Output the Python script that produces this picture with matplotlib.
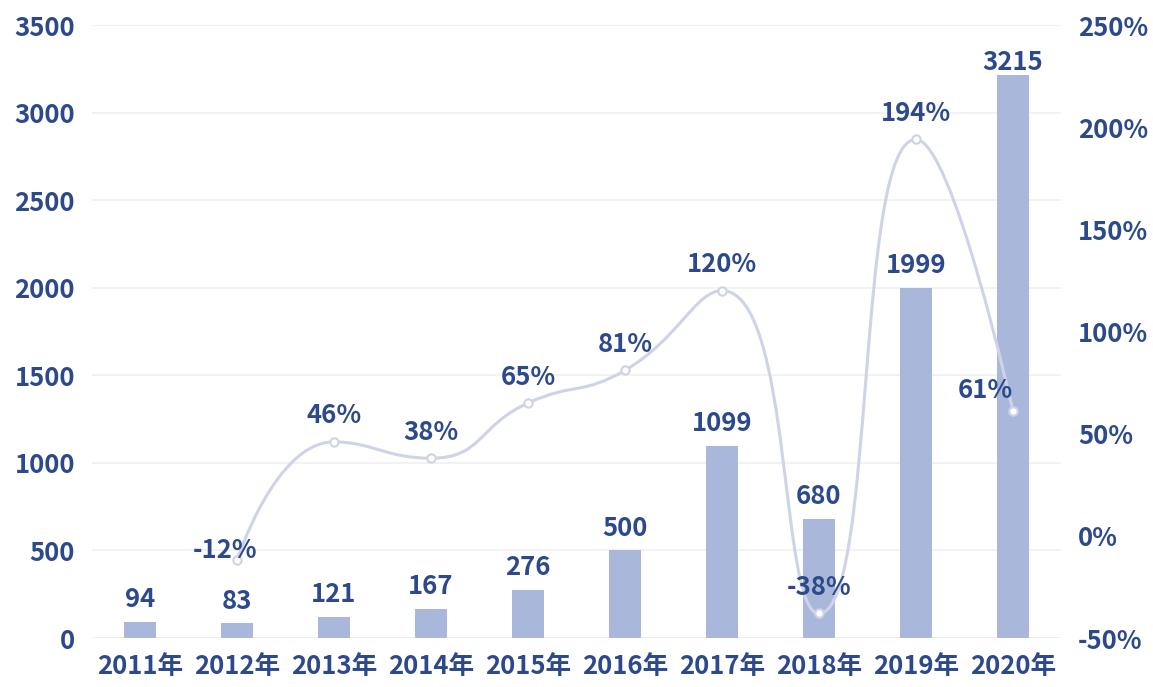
import numpy as np
import matplotlib
matplotlib.use("Agg")
import matplotlib.pyplot as plt
from matplotlib.path import Path
from matplotlib.patches import PathPatch

plt.rcParams['font.family'] = ['Noto Sans CJK SC', 'DejaVu Sans']

years = ["2011年", "2012年", "2013年", "2014年", "2015年",
         "2016年", "2017年", "2018年", "2019年", "2020年"]
counts = [94, 83, 121, 167, 276, 500, 1099, 680, 1999, 3215]
growth = [None, -12, 46, 38, 65, 81, 120, -38, 194, 61]

left_ticks = [0, 500, 1000, 1500, 2000, 2500, 3000, 3500]
right_ticks = [-50, 0, 50, 100, 150, 200, 250]

TEXT = "#2c4a8b"
BAR = "#a9b8da"
LINE = "#cfd3e8"
GRID = "#f1f1f4"
FS = 18.5

fig = plt.figure(figsize=(11.53, 6.87), dpi=100)
ax = fig.add_axes([0.0794, 0.0713, 0.8412, 0.8923])
ax2 = ax.twinx()

x = np.arange(len(years))
ax.set_xlim(-0.5, len(years) - 0.5)
ax.set_ylim(0, 3500)
ax2.set_ylim(-50, 250)

for t in left_ticks[1:]:
    ax.axhline(t, color=GRID, lw=1.3, zorder=0)
ax.axhline(0, color="#eeeeee", lw=1.3, zorder=0)

ax.bar(x, counts, width=0.33, color=BAR, zorder=2)
for xi, v in zip(x, counts):
    dy = 12 if v > 3000 else 22
    ax.annotate(str(v), (xi, v), xytext=(0, dy), textcoords="offset pixels",
                ha="center", va="center", fontsize=FS, fontweight="bold",
                color=TEXT, zorder=5)

# smoothed curve through the growth points, control points kept inside
# the span of each pair of neighbours so extremes stay at the points
gx = [xi for xi, g in zip(x, growth) if g is not None]
gy = [g for g in growth if g is not None]
fig.canvas.draw()
pts = ax2.transData.transform(np.column_stack([gx, gy]))
smooth = 0.5
n = len(pts)
cp_in = [None] * n   # control point arriving at point i
cp_out = [None] * n  # control point leaving point i
for i in range(n):
    p = pts[i]
    if i == 0 or i == n - 1:
        cp_in[i] = p.copy()
        cp_out[i] = p.copy()
        continue
    prev, nxt = pts[i - 1], pts[i + 1]
    vec = nxt - prev
    len_prev = np.hypot(*(p - prev))
    len_next = np.hypot(*(nxt - p))
    ratio = len_next / (len_next + len_prev)
    c_out = p + vec * smooth * ratio
    c_out = np.minimum(c_out, np.maximum(nxt, p))
    c_out = np.maximum(c_out, np.minimum(nxt, p))
    vec = c_out - p
    c_in = p - vec * len_prev / len_next
    c_in = np.minimum(c_in, np.maximum(prev, p))
    c_in = np.maximum(c_in, np.minimum(prev, p))
    vec = p - c_in
    c_out = p + vec * len_next / len_prev
    cp_in[i] = c_in
    cp_out[i] = c_out

verts = [tuple(pts[0])]
codes = [Path.MOVETO]
for i in range(n - 1):
    verts += [tuple(cp_out[i]), tuple(cp_in[i + 1]), tuple(pts[i + 1])]
    codes += [Path.CURVE4] * 3
curve = Path(ax2.transData.inverted().transform(np.array(verts)), codes)
ax2.add_patch(PathPatch(curve, transform=ax2.transData, fill=False,
                        edgecolor=LINE, lw=2.2, zorder=3))
ax2.plot(gx, gy, ls="none", marker="o", ms=6, mfc="white", mec=LINE,
         mew=1.5, zorder=4)

for xi, g in zip(gx, gy):
    dx, dy = 0, 26
    if g == -12:
        dx, dy = -12, 10
    if g == 61:
        dx, dy = -28, 21
    ax2.annotate(f"{g}%", (xi, g), xytext=(dx, dy), textcoords="offset pixels",
                 ha="center", va="center", fontsize=FS, fontweight="bold",
                 color=TEXT, zorder=6)

ax.set_xticks(x)
ax.set_xticklabels(years)
ax.set_yticks(left_ticks)
ax.set_yticklabels([str(t) for t in left_ticks])
ax2.set_yticks(right_ticks)
ax2.set_yticklabels([f"{t}%" for t in right_ticks])

for a in (ax, ax2):
    for s in a.spines.values():
        s.set_visible(False)
    a.tick_params(length=0, labelsize=FS, labelcolor=TEXT)
    for lab in a.get_xticklabels() + a.get_yticklabels():
        lab.set_fontweight("bold")
ax.tick_params(axis="x", pad=11)
ax.tick_params(axis="y", pad=12)
ax2.tick_params(axis="y", pad=12)

fig.savefig("out.png", dpi=100)
